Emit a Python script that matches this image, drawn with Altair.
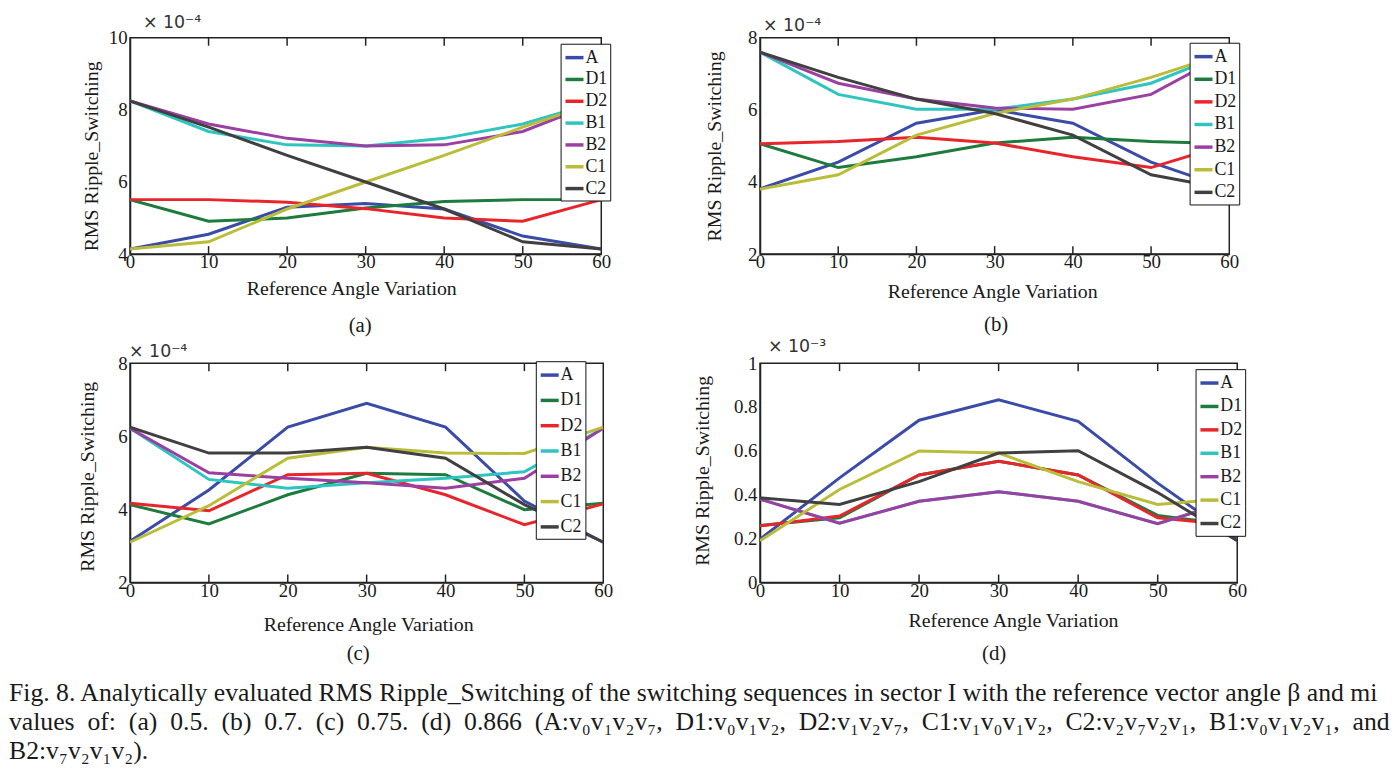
import altair as alt
import pandas as pd

angles = [0, 10, 20, 30, 40, 50, 60]
series = ["A", "D1", "D2", "B1", "B2", "C1", "C2"]
colors = ["#3b4ba8", "#1e7b3e", "#e8252b", "#2ec4c0", "#9b3fa3", "#b9bd3a", "#404040"]
tick_angles = [10, 20, 30, 40, 50]

# panel (a) mi = 0.5  (x 1e-4)
a_A = [4.14, 4.55, 5.3, 5.4, 5.25, 4.5, 4.14]
a_D1 = [5.51, 4.91, 5.0, 5.28, 5.46, 5.51, 5.51]
a_D2 = [5.51, 5.51, 5.44, 5.26, 5.0, 4.91, 5.51]
a_B1 = [8.25, 7.4, 7.03, 7.0, 7.21, 7.61, 8.25]
a_B2 = [8.25, 7.61, 7.21, 7.0, 7.03, 7.4, 8.25]
a_C1 = [4.14, 4.34, 5.25, 6.0, 6.74, 7.52, 8.25]
a_C2 = [8.25, 7.52, 6.74, 6.0, 5.25, 4.34, 4.14]

# panel (b) mi = 0.7  (x 1e-4)
b_A = [3.81, 4.55, 5.63, 6.0, 5.63, 4.55, 3.81]
b_D1 = [5.06, 4.4, 4.7, 5.08, 5.24, 5.12, 5.06]
b_D2 = [5.06, 5.12, 5.24, 5.08, 4.7, 4.4, 5.06]
b_B1 = [7.6, 6.43, 6.02, 6.02, 6.3, 6.74, 7.6]
b_B2 = [7.6, 6.74, 6.3, 6.05, 6.02, 6.43, 7.6]
b_C1 = [3.8, 4.2, 5.3, 5.9, 6.3, 6.9, 7.6]
b_C2 = [7.6, 6.9, 6.3, 5.9, 5.3, 4.2, 3.8]

# panel (c) mi = 0.75  (x 1e-4)
c_A = [3.13, 4.53, 6.25, 6.9, 6.25, 4.23, 3.1]
c_D1 = [4.13, 3.6, 4.4, 4.99, 4.95, 3.99, 4.17]
c_D2 = [4.17, 3.96, 4.95, 4.99, 4.4, 3.58, 4.15]
c_B1 = [6.22, 4.82, 4.58, 4.73, 4.85, 5.03, 6.22]
c_B2 = [6.22, 5.0, 4.85, 4.73, 4.58, 4.85, 6.22]
c_C1 = [3.1, 4.1, 5.4, 5.7, 5.54, 5.53, 6.25]
c_C2 = [6.25, 5.54, 5.54, 5.7, 5.4, 4.13, 3.1]

# panel (d) mi = 0.866  (x 1e-3)
d_A = [0.197, 0.477, 0.74, 0.833, 0.735, 0.453, 0.197]
d_D1 = [0.26, 0.295, 0.49, 0.553, 0.49, 0.306, 0.26]
d_D2 = [0.258, 0.303, 0.49, 0.553, 0.49, 0.295, 0.26]
d_B1 = [0.38, 0.27, 0.37, 0.414, 0.37, 0.268, 0.38]
d_B2 = [0.38, 0.27, 0.37, 0.414, 0.37, 0.268, 0.38]
d_C1 = [0.19, 0.424, 0.6, 0.59, 0.46, 0.356, 0.386]
d_C2 = [0.386, 0.356, 0.46, 0.59, 0.601, 0.41, 0.19]

V0, V1, V2, V7 = "v\u2080", "v\u2081", "v\u2082", "v\u2087"
SP = "\u00a0 "  # widened word gap (line 2 is justified in the original)
caption_lines = [
    "Fig. 8. Analytically evaluated RMS Ripple_Switching of the switching sequences in sector I with the reference vector angle \u03b2 and mi",
    SP.join(["values", "of:", "(a)", "0.5.", "(b)", "0.7.", "(c)", "0.75.", "(d)", "0.866",
             "(A:" + V0 + V1 + V2 + V7 + ",", "D1:" + V0 + V1 + V2 + ",",
             "D2:" + V1 + V2 + V7 + ",", "C1:" + V1 + V0 + V1 + V2 + ",",
             "C2:" + V2 + V7 + V2 + V1 + ",", "B1:" + V0 + V1 + V2 + V1 + ",", "and"]),
    "B2:" + V7 + V2 + V1 + V2 + ").",
]

SERIF = "Liberation Serif"
INK = "#1a1a1a"


def make_df(vals):
    rows = []
    for s, v in zip(series, vals):
        for x, y in zip(angles, v):
            rows.append({"angle": x, "value": y, "series": s})
    return pd.DataFrame(rows)


def text_layer(txt, x, y, size, font=SERIF, align="center", color=INK):
    return alt.Chart(pd.DataFrame({"t": [txt]})).mark_text(
        font=font, fontSize=size, align=align, baseline="middle", color=color
    ).encode(x=alt.value(x), y=alt.value(y), text="t:N")


def panel(vals, ydom, yticks, yfmt, W, H, ytpos, xtpos, cap, cappos, mult, multpos,
          legpos, rowpad, extra=None):
    df = make_df(vals)
    x_enc = alt.X("angle:Q",
                  scale=alt.Scale(domain=[0, 60], nice=False, zero=False),
                  axis=alt.Axis(values=angles, title="Reference Angle Variation",
                                labelFlush=False, labelPadding=-1,
                                titleX=xtpos[0], titleY=xtpos[1],
                                titleBaseline="middle", titleAlign="center"))
    lines = alt.Chart(df).mark_line(strokeWidth=3, clip=True).encode(
        x=x_enc,
        y=alt.Y("value:Q",
                scale=alt.Scale(domain=ydom, nice=False, zero=False),
                axis=alt.Axis(values=yticks, format=yfmt, title="RMS Ripple_Switching",
                              titleX=ytpos[0], titleY=ytpos[1],
                              titleBaseline="middle", titleAlign="center",
                              labelFlush=False)),
        color=alt.Color("series:N", sort=series,
                        scale=alt.Scale(domain=series, range=colors),
                        legend=alt.Legend(title=None, orient="none",
                                          legendX=legpos[0], legendY=legpos[1],
                                          symbolType="stroke", symbolSize=330,
                                          symbolStrokeWidth=3.5,
                                          labelFont=SERIF, labelFontSize=18,
                                          labelColor=INK, labelOffset=0,
                                          fillColor="white", strokeColor="#111",
                                          padding=3, rowPadding=rowpad)),
    )
    tdf = pd.DataFrame({"angle": tick_angles})
    top_ticks = alt.Chart(tdf).mark_rule(color="#222", strokeWidth=1.5).encode(
        x=x_enc, y=alt.value(0), y2=alt.value(8))
    bot_ticks = alt.Chart(tdf).mark_rule(color="#222", strokeWidth=1.5).encode(
        x=x_enc, y=alt.value(H - 8), y2=alt.value(H))
    layers = [lines, top_ticks, bot_ticks,
              text_layer(cap, cappos[0], cappos[1], 21),
              text_layer(mult, multpos[0], multpos[1], 17.5, font="DejaVu Sans",
                         align="left", color="#333")]
    if extra:
        layers += extra
    return alt.layer(*layers).properties(width=W, height=H)


pa = panel([a_A, a_D1, a_D2, a_B1, a_B2, a_C1, a_C2], [4, 10], [4, 6, 8, 10], "d",
           475, 218, (-39, 119), (223, 35), "(a)", (232, 291),
           "\u00d7 10\u207b\u2074", (13, -15), (434, 6), 2)
pb = panel([b_A, b_D1, b_D2, b_B1, b_B2, b_C1, b_C2], [2, 8], [2, 4, 6, 8], "d",
           473, 218, (-46, 109), (234, 38), "(b)", (238, 290),
           "\u00d7 10\u207b\u2074", (3, -12), (433, 5), 2.8)
cap_layers = [text_layer(caption_lines[i], -122, y, 25.9, font=SERIF, align="left")
              for i, y in enumerate([332, 362, 391])]
pc = panel([c_A, c_D1, c_D2, c_B1, c_B2, c_C1, c_C2], [2, 8], [2, 4, 6, 8], "d",
           477, 221, (-43, 114), (240, 42), "(c)", (230, 293),
           "\u00d7 10\u207b\u2074", (-1, -11), (409, -2), 5.5, extra=cap_layers)
pd_ = panel([d_A, d_D1, d_D2, d_B1, d_B2, d_C1, d_C2], [0, 1],
            [0, 0.2, 0.4, 0.6, 0.8, 1], "~g", 481, 221, (-58, 108), (255, 38), "(d)",
            (236, 293), "\u00d7 10\u207b\u00b3", (8, -16), (439, 6), 3.6)

chart = alt.concat(
    pa, pb, pc, pd_, columns=2, spacing={"row": 110, "column": 158}
).resolve_scale(color="independent").properties(
    bounds="flush",
    padding={"left": 0, "top": 2, "right": 0, "bottom": 0},
).configure_view(
    stroke="#222", strokeWidth=1.5
).configure_axis(
    labelFont=SERIF, titleFont=SERIF, labelFontSize=19, titleFontSize=20,
    labelColor=INK, titleColor=INK, titleFontWeight="normal",
    domainColor="#222", domainWidth=1.5, ticks=False, grid=False, labelPadding=3,
).configure_legend(
    labelFont=SERIF
)

chart.save("out.html", embed_options={"renderer": "svg", "actions": False})
